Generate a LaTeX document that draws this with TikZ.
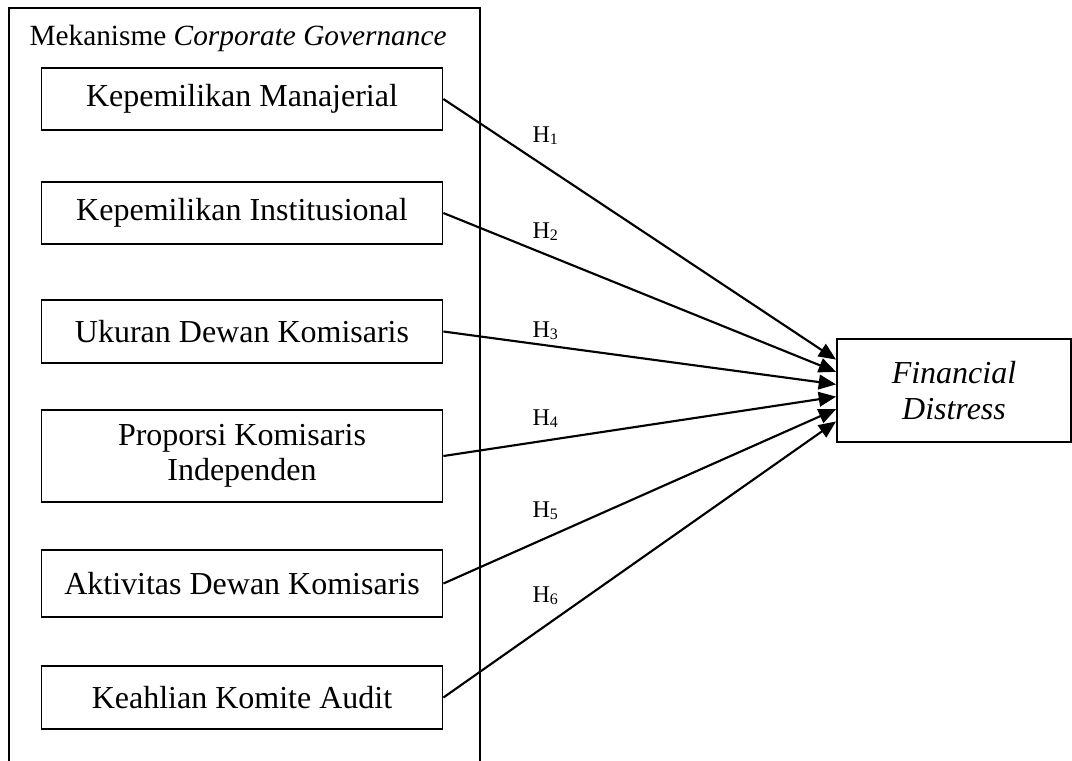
\documentclass[tikz,border=0pt]{standalone}
\usepackage{fontspec}
\setmainfont{Liberation Serif}
\usetikzlibrary{arrows.meta}
\usetikzlibrary{positioning}
\tikzset{varbox/.style = {draw, line width = 0.65pt, minimum width = 150.4pt, minimum height = 23pt, inner sep = 0, align = center, font = \fontsize{12}{13}\selectfont}}
\tikzset{hyp/.style = {-{Triangle[length = 6.5pt, width = 5.5pt]}, line width = 0.8pt}}
\tikzset{hlabel/.style = {anchor = base west, inner sep = 0, font = \fontsize{9}{10}\selectfont}}

\begin{document}
\begin{tikzpicture}[x = 0.375pt, y = -0.375pt]
    \useasboundingbox (0, 0) rectangle (1072, 760);

    \draw [line width = 0.75pt] (9, 8) rectangle (480, 764);
    \node [anchor = base west, inner sep = 0, font = \fontsize{11}{13}\selectfont] (title) at (29, 45) {Mekanisme \textit{Corporate Governance}};

    \node [varbox] (v1) at (242, 99) {Kepemilikan Manajerial};
    \node [varbox] (v2) at (242, 213) {Kepemilikan Institusional};
    \node [varbox, minimum height = 23.6pt] (v3) at (242, 331.5) {Ukuran Dewan Komisaris};
    \node [varbox, minimum height = 34.5pt] (v4) at (242, 456) {Proporsi Komisaris\\Independen};
    \node [varbox, minimum height = 25pt] (v5) at (242, 583.5) {Aktivitas Dewan Komisaris};
    \node [varbox, minimum height = 23.6pt] (v6) at (242, 697.5) {Keahlian Komite Audit};

    \node [varbox, minimum width = 87.8pt, minimum height = 38.6pt, font = \fontsize{12}{13.8}\selectfont] (fd) at (954, 390.5) {\textit{Financial}\\\textit{Distress}};

    \foreach \i/\s in {1/11.6, 2/7, 3/2.3, 4/-2.3, 5/-7, 6/-11.6}
        \draw [hyp] (v\i.east) -- ([yshift = \s pt]fd.west);

    \node [hlabel] (h1) at (532, 142) {H\textsubscript{1}};
    \node [hlabel] (h2) at (532, 238) {H\textsubscript{2}};
    \node [hlabel] (h3) at (532, 337) {H\textsubscript{3}};
    \node [hlabel] (h4) at (532, 425) {H\textsubscript{4}};
    \node [hlabel] (h5) at (532, 517) {H\textsubscript{5}};
    \node [hlabel] (h6) at (532, 602) {H\textsubscript{6}};
\end{tikzpicture}
\end{document}
